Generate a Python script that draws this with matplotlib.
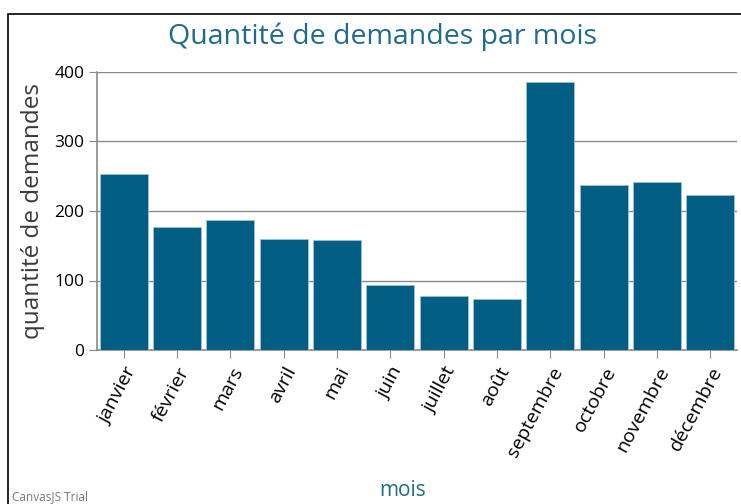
import matplotlib
matplotlib.use('Agg')
import matplotlib.pyplot as plt
from matplotlib.patches import Rectangle

# data
mois = ['janvier', 'février', 'mars', 'avril', 'mai', 'juin', 'juillet',
        'août', 'septembre', 'octobre', 'novembre', 'décembre']
demandes = [253, 177, 187, 160, 158, 94, 78, 73, 386, 237, 242, 223]
yticks = [0, 100, 200, 300, 400]

BAR = '#035e86'
TEAL = '#1f6b8e'
GRID = '#8a8a8a'

plt.rcParams['font.family'] = ['Open Sans', 'DejaVu Sans']

fig = plt.figure(figsize=(7.41, 5.04), dpi=100)
ax = fig.add_axes([97 / 741, 1 - 350 / 504, 640 / 741, 278 / 504])

x = range(len(mois))
ax.bar(x, demandes, width=0.9, color=BAR, edgecolor='#9cc3d6', linewidth=0.6, zorder=3)

ax.set_xlim(-0.5, len(mois) - 0.5)
ax.set_ylim(0, 400)
ax.set_yticks(yticks)
ax.set_xticks(list(x))
ax.set_xticklabels(mois, rotation=62, ha='right', va='top', rotation_mode='anchor', fontsize=14)
ax.tick_params(axis='y', labelsize=12.5, length=6, color=GRID, pad=3)
ax.tick_params(axis='x', length=6, color=GRID, pad=4)
ax.grid(axis='y', color=GRID, linewidth=1, zorder=0)

for s in ('top', 'right'):
    ax.spines[s].set_visible(False)
for s in ('left', 'bottom'):
    ax.spines[s].set_color(GRID)
    ax.spines[s].set_linewidth(1.2)

ax.set_ylabel('quantité de demandes', fontsize=17.5, color='#3a3a3a', labelpad=7)

fig.text(383 / 741, 1 - 37 / 504, 'Quantité de demandes par mois', fontsize=20.5,
         color=TEAL, ha='center', va='center')
fig.text(403 / 741, 1 - 490 / 504, 'mois', fontsize=15, color=TEAL, ha='center', va='center')
fig.text(12 / 741, 1 - 497 / 504, 'CanvasJS Trial', fontsize=8.5, color='#777777',
         ha='left', va='center')

# outer border of the chart container
fig.patches.append(Rectangle((8 / 741, -0.1), 1.0, 1 - 14 / 504 + 0.1,
                             transform=fig.transFigure, fill=False,
                             edgecolor='black', linewidth=1.2))

fig.savefig('out.png', dpi=100)
